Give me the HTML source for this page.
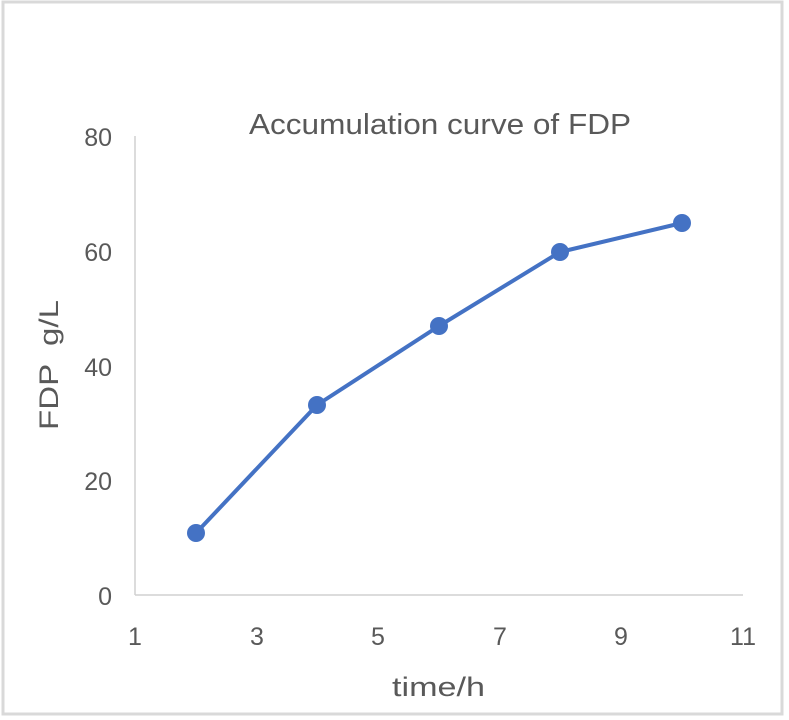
<!DOCTYPE html>
<html><head><meta charset="utf-8"><style>
html,body{margin:0;padding:0;background:#fff;}
svg{display:block;}
text{font-family:"Liberation Sans",sans-serif;fill:#595959;}
</style></head><body>
<svg width="789" height="720" viewBox="0 0 789 720">
<rect x="0" y="0" width="789" height="720" fill="#fff"/>
<rect x="3" y="2" width="779" height="712" fill="none" stroke="#d9d9d9" stroke-width="3"/>
<text x="249" y="134" font-size="29" textLength="382" lengthAdjust="spacingAndGlyphs" fill="#404040">Accumulation curve of FDP</text>
<line x1="135" y1="136" x2="135" y2="595" stroke="#d0d0d0" stroke-width="1.5"/>
<line x1="135" y1="595" x2="743" y2="595" stroke="#d0d0d0" stroke-width="1.5"/>
<g font-size="25" text-anchor="end">
<text x="112" y="146">80</text>
<text x="112" y="261">60</text>
<text x="112" y="376">40</text>
<text x="112" y="490">20</text>
<text x="112" y="605">0</text>
</g>
<g font-size="25" text-anchor="middle">
<text x="135" y="645">1</text>
<text x="257" y="645">3</text>
<text x="378" y="645">5</text>
<text x="500" y="645">7</text>
<text x="621" y="645">9</text>
<text x="743" y="645">11</text>
</g>
<text x="392" y="696" font-size="27" textLength="93" lengthAdjust="spacingAndGlyphs">time/h</text>
<text transform="translate(58,430) rotate(-90)" font-size="27" textLength="130" lengthAdjust="spacingAndGlyphs" xml:space="preserve">FDP  g/L</text>
<polyline points="196,533 317,405 439,326 560,252 682,223" fill="none" stroke="#4472c4" stroke-width="4" stroke-linejoin="round"/>
<g fill="#4472c4">
<circle cx="196" cy="533" r="9"/>
<circle cx="317" cy="405" r="9"/>
<circle cx="439" cy="326" r="9"/>
<circle cx="560" cy="252" r="9"/>
<circle cx="682" cy="223" r="9"/>
</g>
</svg>
</body></html>
